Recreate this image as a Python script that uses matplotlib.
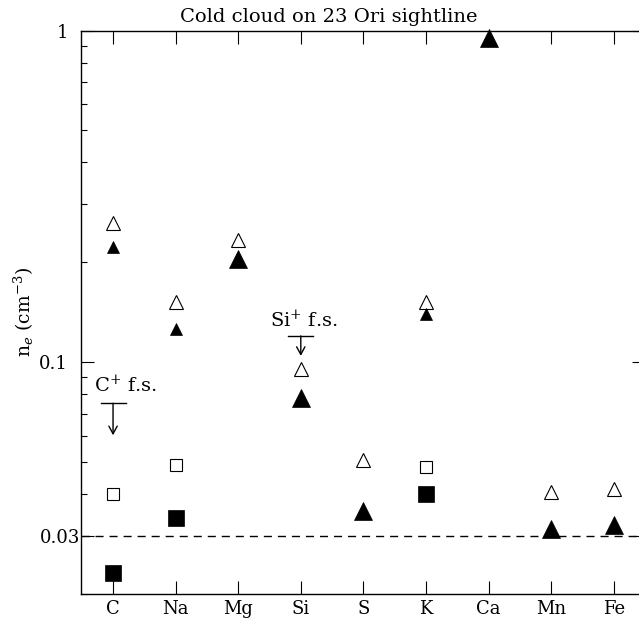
import numpy as np
import matplotlib
matplotlib.use("Agg")
import matplotlib.pyplot as plt
from matplotlib.transforms import offset_copy, ScaledTranslation
from matplotlib.ticker import FixedLocator, NullFormatter

plt.rcParams['font.family'] = 'DejaVu Serif'
plt.rcParams['mathtext.fontset'] = 'dejavuserif'

nan = np.nan
elements = ['C', 'Na', 'Mg', 'Si', 'S', 'K', 'Ca', 'Mn', 'Fe']

# electron densities (cm^-3) per element, nan where no estimate
open_tri   = [0.263, 0.152, 0.233, 0.0953, 0.0507, 0.152, nan, 0.0406, 0.0415]
small_tri  = [0.223, 0.126, nan, nan, nan, 0.140, nan, nan, nan]
big_tri    = [nan, nan, 0.204, 0.0781, 0.0355, nan, 0.946, 0.0313, 0.0322]
open_sq    = [0.0400, 0.0490, nan, nan, nan, 0.0482, nan, nan, nan]
filled_sq  = [0.0231, 0.0340, nan, nan, nan, 0.0400, nan, nan, nan]

# fine-structure upper limits
limit_labels = ['C$^{+}$ f.s.', 'Si$^{+}$ f.s.']
limit_elem = ['C', 'Si']
limit_vals = [0.0752, 0.120]

ref_level = 0.03

fig = plt.figure(figsize=(6.39, 6.20), dpi=100)
ax = fig.add_axes([81/639, 1 - 594/620, (645 - 81)/639, (594 - 30.5)/620])

x = np.arange(1, len(elements) + 1)

kw = dict(ls='none', clip_on=False, zorder=3)
ax.plot(x, open_tri, marker='^', ms=9.5, mfc='white', mec='black', mew=0.8, **kw)
ax.plot(x, small_tri, marker='^', ms=9, mfc='black', mec='black', mew=0.5, **kw)
ax.plot(x, big_tri, marker='^', ms=13.5, mfc='black', mec='black', mew=0.5, **kw)
ax.plot(x, open_sq, marker='s', ms=8.3, mfc='white', mec='black', mew=0.8, **kw)
ax.plot(x, filled_sq, marker='s', ms=12, mfc='black', mec='black', mew=0.5, **kw)

ax.axhline(ref_level, color='black', lw=1.0, ls=(0, (5.8, 4.3)), zorder=1)

# upper-limit bars with downward arrows
arrow_len = [32, 20]
text_dx = [-19, -31]
text_dy = [11, 9]
for lab, el, v, L, dx, dy in zip(limit_labels, limit_elem, limit_vals,
                                 arrow_len, text_dx, text_dy):
    xi = elements.index(el) + 1
    ax.plot([xi - 0.2, xi + 0.2], [v, v], color='black', lw=1.0)
    tip = offset_copy(ax.transData, fig=fig, y=-L, units='dots')
    ax.annotate('', xy=(xi, v), xycoords=tip, xytext=(xi, v), textcoords='data',
                arrowprops=dict(arrowstyle='->,head_length=0.55,head_width=0.3',
                                color='black', lw=1.0, shrinkA=0, shrinkB=0))
    ax.annotate(lab, xy=(xi, v), xytext=(dx, dy), textcoords='offset pixels',
                ha='left', va='baseline', fontsize=14)

ax.set_yscale('log')
ax.set_ylim(0.02, 1)
ax.set_xlim(0.488, 9.5)

ax.set_xticks(x)
ax.set_xticklabels(elements, fontsize=13)
ax.yaxis.set_major_locator(FixedLocator([0.03, 0.1, 1]))
ax.set_yticklabels(['0.03', '0.1', '1'], fontsize=13)
minor = [m * 10.0**e for e in (-2, -1) for m in range(2, 10)]
ax.yaxis.set_minor_locator(FixedLocator(minor))
ax.yaxis.set_minor_formatter(NullFormatter())

ax.tick_params(axis='both', which='major', direction='in', length=9.4,
               width=0.8, top=True, right=True, color='black')
ax.tick_params(axis='y', which='major', pad=9.5)
ax.tick_params(axis='x', which='major', pad=4.5)
ax.tick_params(axis='y', which='minor', direction='in', length=4.5,
               width=0.8, right=True)
ax.tick_params(axis='x', which='minor', bottom=False, top=False)

# the 0.03 label sits closer to the axis than the others
for t in ax.get_yticklabels():
    if t.get_text() == '0.03':
        t.set_transform(t.get_transform() + ScaledTranslation(12/100, 0, fig.dpi_scale_trans))

for s in ax.spines.values():
    s.set_linewidth(1.0)

ax.set_ylabel('n$_e$ (cm$^{-3}$)', fontsize=13.5)
ax.yaxis.set_label_coords(-0.08, 0.5)
ax.set_title('Cold cloud on 23 Ori sightline', fontsize=14, pad=6)
ax.title.set_position(((329 - 81) / 564, 1.0))

fig.savefig('out.png', dpi=100)
